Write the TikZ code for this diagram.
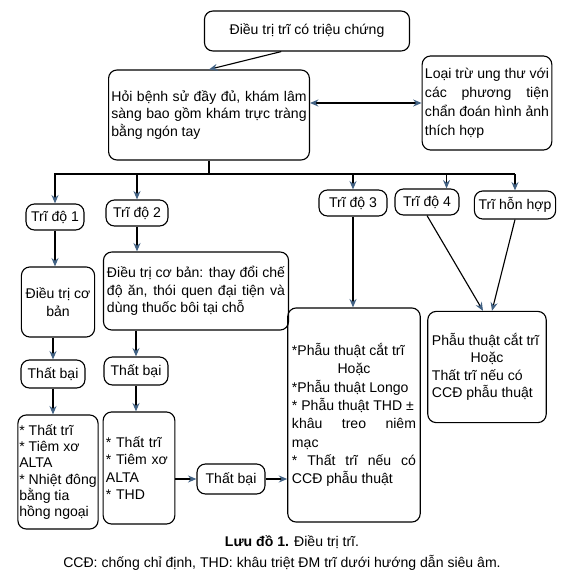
\documentclass[tikz,border=0pt]{standalone}
\usepackage{fontspec}
\setmainfont{Liberation Sans}
\usetikzlibrary{arrows.meta,calc}
\definecolor{tipblue}{RGB}{66,98,132}
\hyphenpenalty=10000\relax
\newcommand\jmid[1]{\null\hfill#1\hfill\null}
\tikzset{
  box/.style={draw,rounded corners=6pt,line width=.8pt,align=justify,inner xsep=3pt,inner ysep=3pt},
  lvl/.style={box,align=center,minimum height=.65cm},
  lin/.style={line width=.8pt},
  arr/.style={lin,-{Stealth[length=6pt,width=5pt,color=tipblue]}},
  arrs/.style={lin,{Stealth[length=6pt,width=5pt,color=tipblue]}-{Stealth[length=6pt,width=5pt,color=tipblue]}},
}
\begin{document}
\begin{tikzpicture}[x=.025cm,y=-.025cm,font=\fontsize{10}{12.4}\selectfont]
  \useasboundingbox(0,0) rectangle(568,586);
  \node[box,align=center,minimum width=5.125cm,minimum height=1cm](top) at(307,31){Điều trị trĩ có triệu chứng};
  \node[box,text width=4.88cm,inner xsep=2pt,minimum height=2.25cm](hoi) at(209,115){Hỏi bệnh sử đầy đủ, khám lâm\linebreak sàng bao gồm khám trực tràng\linebreak bằng ngón tay};
  \node[box,text width=3.1cm,inner xsep=2pt,minimum height=2.35cm,font=\fontsize{10}{13.5}\selectfont](loai) at(487,103){Loại trừ ung thư với\linebreak các phương tiện\linebreak chẩn đoán hình ảnh\linebreak thích hợp};
  \node[lvl,minimum width=1.45cm](tr1) at(55,217){Trĩ độ 1};
  \node[lvl,minimum width=1.55cm](tr2) at(137,213){Trĩ độ 2};
  \node[lvl,minimum width=1.7cm](tr3) at(353,203){Trĩ độ 3};
  \node[lvl,minimum width=1.6cm](tr4) at(427,202){Trĩ độ 4};
  \node[lvl,minimum width=1.9cm,minimum height=.7cm](hh) at(515,205){Trĩ hỗn hợp};
  \node[box,align=center,minimum width=1.6cm,minimum height=1.75cm](cb1) at(58,302){Điều trị cơ\\bản};
  \node[lvl,minimum width=1.6cm,minimum height=.7cm](tb1) at(53,374){Thất bại};
  \node[box,align=left,inner xsep=1pt,minimum width=1.95cm,minimum height=2.85cm,font=\fontsize{10}{11.6}\selectfont](bl1) at(58,472){{*} Thất trĩ\\{*} Tiêm xơ\\ALTA\\{*} Nhiệt đông\\bằng tia\\hồng ngoại};
  \node[box,text width=4.45cm,inner xsep=2.5pt,minimum height=1.95cm](cb2) at(196,291){Điều trị cơ bản: thay đổi chế\linebreak độ ăn, thói quen đại tiện và\linebreak dùng thuốc bôi tại chỗ};
  \node[lvl,minimum width=1.6cm,minimum height=.7cm](tb2) at(136,371){Thất bại};
  \node[box,align=left,text width=1.65cm,inner xsep=2pt,minimum height=2.8cm](bl2) at(139,468){{*} Thất trĩ\\{*} Tiêm xơ\\ALTA\\{*} THD};
  \node[lvl,minimum width=1.7cm,minimum height=.75cm](tb3) at(231,479){Thất bại};
  \node[box,text width=3.1cm,minimum height=5.35cm,font=\fontsize{10}{13}\selectfont](r3) at(354,415){{*}Phẫu thuật cắt trĩ\\\jmid{Hoặc}\\{*}Phẫu thuật Longo\\{*} Phẫu thuật THD ±\\khâu treo niêm\linebreak mạc\\{*} Thất trĩ nếu có\linebreak CCĐ phẫu thuật};
  \node[box,text width=2.75cm,minimum height=2.78cm](r4) at(487,367){Phẫu thuật cắt trĩ\\\jmid{Hoặc}\\Thất trĩ nếu có\\CCĐ phẫu thuật};
  \node(cap1) at(292,542){\textbf{Lưu đồ 1.} Điều trị trĩ.};
  \node(cap2) at(282,563){CCĐ: chống chỉ định, THD: khâu triệt ĐM trĩ dưới hướng dẫn siêu âm.};
  \draw[arr]($(top.south)!.25!(top.south west)$)--(hoi.north);
  \draw[arrs](loai.west -| hoi.east)--(loai.west);
  \coordinate(bus) at(0,174);
  \coordinate(t4) at($(tr4.north)!.6!(tr4.north east)$);
  \draw[lin](hoi.south)--(hoi.south |- bus);
  \draw[arr](hh.north |- bus)-|(tr1.north);
  \draw[arr](hh.north |- bus)--(hh.north);
  \draw[arr](tr2.north |- bus)--(tr2.north);
  \draw[arr](tr3.north |- bus)--(tr3.north);
  \draw[arr](t4 |- bus)--(t4);
  \draw[arr](tr1.south)--(tr1.south |- cb1.north);
  \draw[arr](tb1.north |- cb1.south)--(tb1.north);
  \draw[arr](tb1.south)--(tb1.south |- bl1.north);
  \draw[arr](tr2.south)--(tr2.south |- cb2.north);
  \draw[arr](tb2.north |- cb2.south)--(tb2.north);
  \draw[arr](tb2.south)--(tb2.south |- bl2.north);
  \draw[arr](bl2.east |- tb3.west)--(tb3.west);
  \draw[arr](tb3.east)--(tb3.east -| r3.west);
  \draw[arr](tr3.south)--(tr3.south |- r3.north);
  \draw[arr](tr4.south)--($(r4.north)+(-4,0)$);
  \draw[arr](hh.south)--($(r4.north)+(5,0)$);
\end{tikzpicture}
\end{document}
